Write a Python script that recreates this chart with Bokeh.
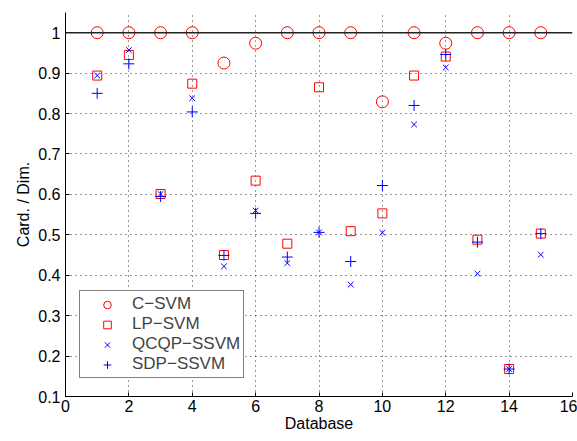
from bokeh.plotting import figure
from bokeh.models import Span, Legend, LegendItem, FixedTicker, Range1d
from bokeh.embed import file_html
from bokeh.resources import INLINE

# Fraction of selected features (cardinality / dimension) per database
databases = list(range(1, 16))
c_svm = [1, 1, 1, 1, 0.925, 0.974, 1, 1, 1, 0.829, 1, 0.974, 1, 1, 1]
lp_svm = [0.894, 0.945, 0.601, 0.874, 0.450, 0.634, 0.478, 0.865, 0.509, 0.553,
          0.894, 0.941, 0.488, 0.168, 0.503]
qcqp_ssvm = [0.894, 0.957, 0.601, 0.838, 0.422, 0.560, 0.430, 0.506, 0.377, 0.505,
             0.773, 0.914, 0.404, 0.168, 0.451]
sdp_ssvm = [0.850, 0.923, 0.595, 0.804, 0.449, 0.553, 0.445, 0.506, 0.434, 0.622,
            0.820, 0.946, 0.482, 0.168, 0.503]

x_ticks = [0, 2, 4, 6, 8, 10, 12, 14, 16]
y_ticks = [0.1, 0.2, 0.3, 0.4, 0.5, 0.6, 0.7, 0.8, 0.9, 1.0]

FONT = "Liberation Sans"

p = figure(width=577, height=441, output_backend="svg", toolbar_location=None,
           x_range=Range1d(0, 16), y_range=Range1d(0.1, 1.05),
           min_border_left=65, min_border_right=5, min_border_top=12,
           min_border_bottom=45)
p.outline_line_color = None
p.background_fill_color = "white"
p.border_fill_color = "white"

for ax in (p.xaxis[0], p.yaxis[0]):
    ax.axis_line_color = "black"
    ax.major_tick_in = 4
    ax.major_tick_out = 0
    ax.minor_tick_line_color = None
    ax.major_label_text_font = FONT
    ax.major_label_text_font_size = "16px"
    ax.major_label_text_color = "black"
    ax.axis_label_text_font = FONT
    ax.axis_label_text_font_size = "16px"
    ax.axis_label_text_font_style = "normal"
    ax.axis_label_text_color = "black"

p.xaxis[0].ticker = FixedTicker(ticks=x_ticks)
p.yaxis[0].ticker = FixedTicker(ticks=y_ticks)
p.yaxis[0].major_label_overrides = {1.0: "1"}
p.xaxis[0].axis_label = "Database"
p.yaxis[0].axis_label = "Card. / Dim."
p.xaxis[0].axis_label_standoff = 0
p.yaxis[0].axis_label_standoff = 3
p.xaxis[0].major_label_standoff = 3
p.yaxis[0].major_label_standoff = 5

for g in (p.xgrid[0], p.ygrid[0]):
    g.grid_line_color = "black"
    g.grid_line_dash = "1 4"
    g.grid_line_width = 1
    g.grid_line_alpha = 0.8

p.add_layout(Span(location=1.0, dimension="width", line_color="#222222",
                  line_width=1.5))

r_c = p.scatter(databases, c_svm, marker="circle", size=12, fill_color=None,
                line_color="red", line_width=1)
r_lp = p.scatter(databases, lp_svm, marker="square", size=9, fill_color=None,
                 line_color="red", line_width=1)
r_q = p.scatter(databases, qcqp_ssvm, marker="x", size=8, line_color="blue",
                line_width=1)
r_s = p.scatter(databases, sdp_ssvm, marker="cross", size=11, line_color="blue",
                line_width=1)

legend = Legend(items=[
    LegendItem(label="C\u2212SVM", renderers=[r_c]),
    LegendItem(label="LP\u2212SVM", renderers=[r_lp]),
    LegendItem(label="QCQP\u2212SSVM", renderers=[r_q]),
    LegendItem(label="SDP\u2212SSVM", renderers=[r_s]),
], location=(14, 18))
legend.border_line_color = "black"
legend.border_line_width = 1.5
legend.background_fill_alpha = 1
legend.label_text_font = FONT
legend.label_text_font_size = "17px"
legend.label_height = 19
legend.glyph_height = 19
legend.glyph_width = 48
legend.spacing = 0
legend.padding = 3
legend.margin = 0
legend.label_standoff = 1
p.add_layout(legend)

open("out.html", "w").write(file_html(p, INLINE))
